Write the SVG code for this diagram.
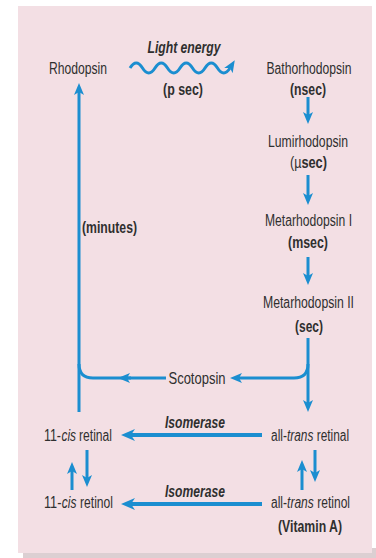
<svg xmlns="http://www.w3.org/2000/svg" width="376" height="558" viewBox="0 0 376 558">
<style>
text{font-family:"Liberation Sans",Arial,sans-serif;font-size:16px;fill:#2f2f2f;text-anchor:middle}
.s{text-anchor:start}
.b{font-weight:bold}
.bi{font-weight:bold;font-style:italic}
.i{font-style:italic}
.c{fill:none;stroke:#1b8ed0;stroke-width:3}
.t{fill:none;stroke:#1b8ed0;stroke-width:4}
</style>
<defs>
<marker id="ah" viewBox="0 0 12 10" refX="3" refY="5" markerWidth="12" markerHeight="10" markerUnits="userSpaceOnUse" orient="auto">
<path d="M0,0 L12,5 L0,10 L3,5 z" fill="#1b8ed0"/>
</marker>
<marker id="ahb" viewBox="0 0 14 12" refX="4" refY="6" markerWidth="14" markerHeight="12" markerUnits="userSpaceOnUse" orient="auto">
<path d="M0,0 L14,6 L0,12 L4,6 z" fill="#1b8ed0"/>
</marker>
</defs>
<rect x="23" y="548" width="353" height="10" fill="#dccfd2"/>
<rect x="18" y="6" width="354" height="547" fill="#f3dfe4"/>

<g id="connectors">
<path class="c" d="M130,68 Q136.25,58 142.5,68 T155,68 T167.5,68 T180,68 T192.5,68 T205,68 T217.5,68 T230,68" marker-end="url(#ah)"/>
<path class="c" d="M308,97 L308,115" marker-end="url(#ah)"/>
<path class="c" d="M308,175 L308,196" marker-end="url(#ah)"/>
<path class="c" d="M308,257 L308,276" marker-end="url(#ah)"/>
<path class="c" d="M308,338 L308,403" marker-end="url(#ah)"/>
<path class="c" d="M79,412 L79,92" marker-end="url(#ah)"/>
<path class="c" d="M308,364 Q308,378 294,378 L239,378" marker-end="url(#ah)"/>
<path class="c" d="M166,378 L93,378 Q79,378 79,364"/>
<path class="c" d="M131,378 L127,378" marker-end="url(#ah)"/>
<path class="t" d="M262,435 L131,435" marker-end="url(#ahb)"/>
<path class="t" d="M262,504 L131,504" marker-end="url(#ahb)"/>
<path class="c" d="M72,490 L72,471" marker-end="url(#ah)"/>
<path class="c" d="M87,450 L87,478" marker-end="url(#ah)"/>
<path class="c" d="M302,490 L302,469" marker-end="url(#ah)"/>
<path class="c" d="M315,450 L315,473" marker-end="url(#ah)"/>
</g>

<g id="rhodopsin"><text x="78" y="74" textLength="58" lengthAdjust="spacingAndGlyphs">Rhodopsin</text></g>
<g id="light-energy">
<text class="bi" x="184" y="53" textLength="73" lengthAdjust="spacingAndGlyphs">Light energy</text>
<text class="b" x="183" y="95" textLength="40" lengthAdjust="spacingAndGlyphs">(p sec)</text>
</g>
<g id="bathorhodopsin">
<text x="309" y="74" textLength="85" lengthAdjust="spacingAndGlyphs">Bathorhodopsin</text>
<text class="b" x="308" y="95" textLength="36" lengthAdjust="spacingAndGlyphs">(nsec)</text>
</g>
<g id="lumirhodopsin">
<text x="308" y="147" textLength="80" lengthAdjust="spacingAndGlyphs">Lumirhodopsin</text>
<text class="s" x="290" y="168" textLength="11.4" lengthAdjust="spacingAndGlyphs">(µ</text>
<text class="s b" x="301.4" y="168" textLength="25.6" lengthAdjust="spacingAndGlyphs">sec)</text>
</g>
<g id="metarhodopsin-1">
<text x="308.5" y="226" textLength="87" lengthAdjust="spacingAndGlyphs">Metarhodopsin I</text>
<text class="b" x="308" y="248" textLength="40" lengthAdjust="spacingAndGlyphs">(msec)</text>
</g>
<g id="metarhodopsin-2">
<text x="308.5" y="308" textLength="91" lengthAdjust="spacingAndGlyphs">Metarhodopsin II</text>
<text class="b" x="309" y="332" textLength="28" lengthAdjust="spacingAndGlyphs">(sec)</text>
</g>
<g id="minutes"><text class="b" x="109.5" y="233" textLength="55" lengthAdjust="spacingAndGlyphs">(minutes)</text></g>
<g id="scotopsin"><text x="197" y="384" textLength="57" lengthAdjust="spacingAndGlyphs">Scotopsin</text></g>
<g id="isomerase-1"><text class="bi" x="195" y="428" textLength="60" lengthAdjust="spacingAndGlyphs">Isomerase</text></g>
<g id="isomerase-2"><text class="bi" x="195" y="497" textLength="60" lengthAdjust="spacingAndGlyphs">Isomerase</text></g>
<g id="cis-retinal">
<text class="s" x="44" y="441" textLength="17" lengthAdjust="spacingAndGlyphs">11-</text>
<text class="s i" x="61.5" y="441" textLength="14.5" lengthAdjust="spacingAndGlyphs">cis</text>
<text class="s" x="79" y="441" textLength="33" lengthAdjust="spacingAndGlyphs">retinal</text>
</g>
<g id="trans-retinal">
<text class="s" x="271" y="441" textLength="15.9" lengthAdjust="spacingAndGlyphs">all-</text>
<text class="s i" x="287" y="441" textLength="26.3" lengthAdjust="spacingAndGlyphs">trans</text>
<text class="s" x="316.7" y="441" textLength="32.4" lengthAdjust="spacingAndGlyphs">retinal</text>
</g>
<g id="cis-retinol">
<text class="s" x="44" y="508" textLength="17.4" lengthAdjust="spacingAndGlyphs">11-</text>
<text class="s i" x="61.8" y="508" textLength="14.7" lengthAdjust="spacingAndGlyphs">cis</text>
<text class="s" x="80" y="508" textLength="33" lengthAdjust="spacingAndGlyphs">retinol</text>
</g>
<g id="trans-retinol">
<text class="s" x="271" y="508" textLength="16" lengthAdjust="spacingAndGlyphs">all-</text>
<text class="s i" x="287.1" y="508" textLength="26.6" lengthAdjust="spacingAndGlyphs">trans</text>
<text class="s" x="317.3" y="508" textLength="32.7" lengthAdjust="spacingAndGlyphs">retinol</text>
<text class="b" x="310" y="532" textLength="64" lengthAdjust="spacingAndGlyphs">(Vitamin A)</text>
</g>
</svg>
